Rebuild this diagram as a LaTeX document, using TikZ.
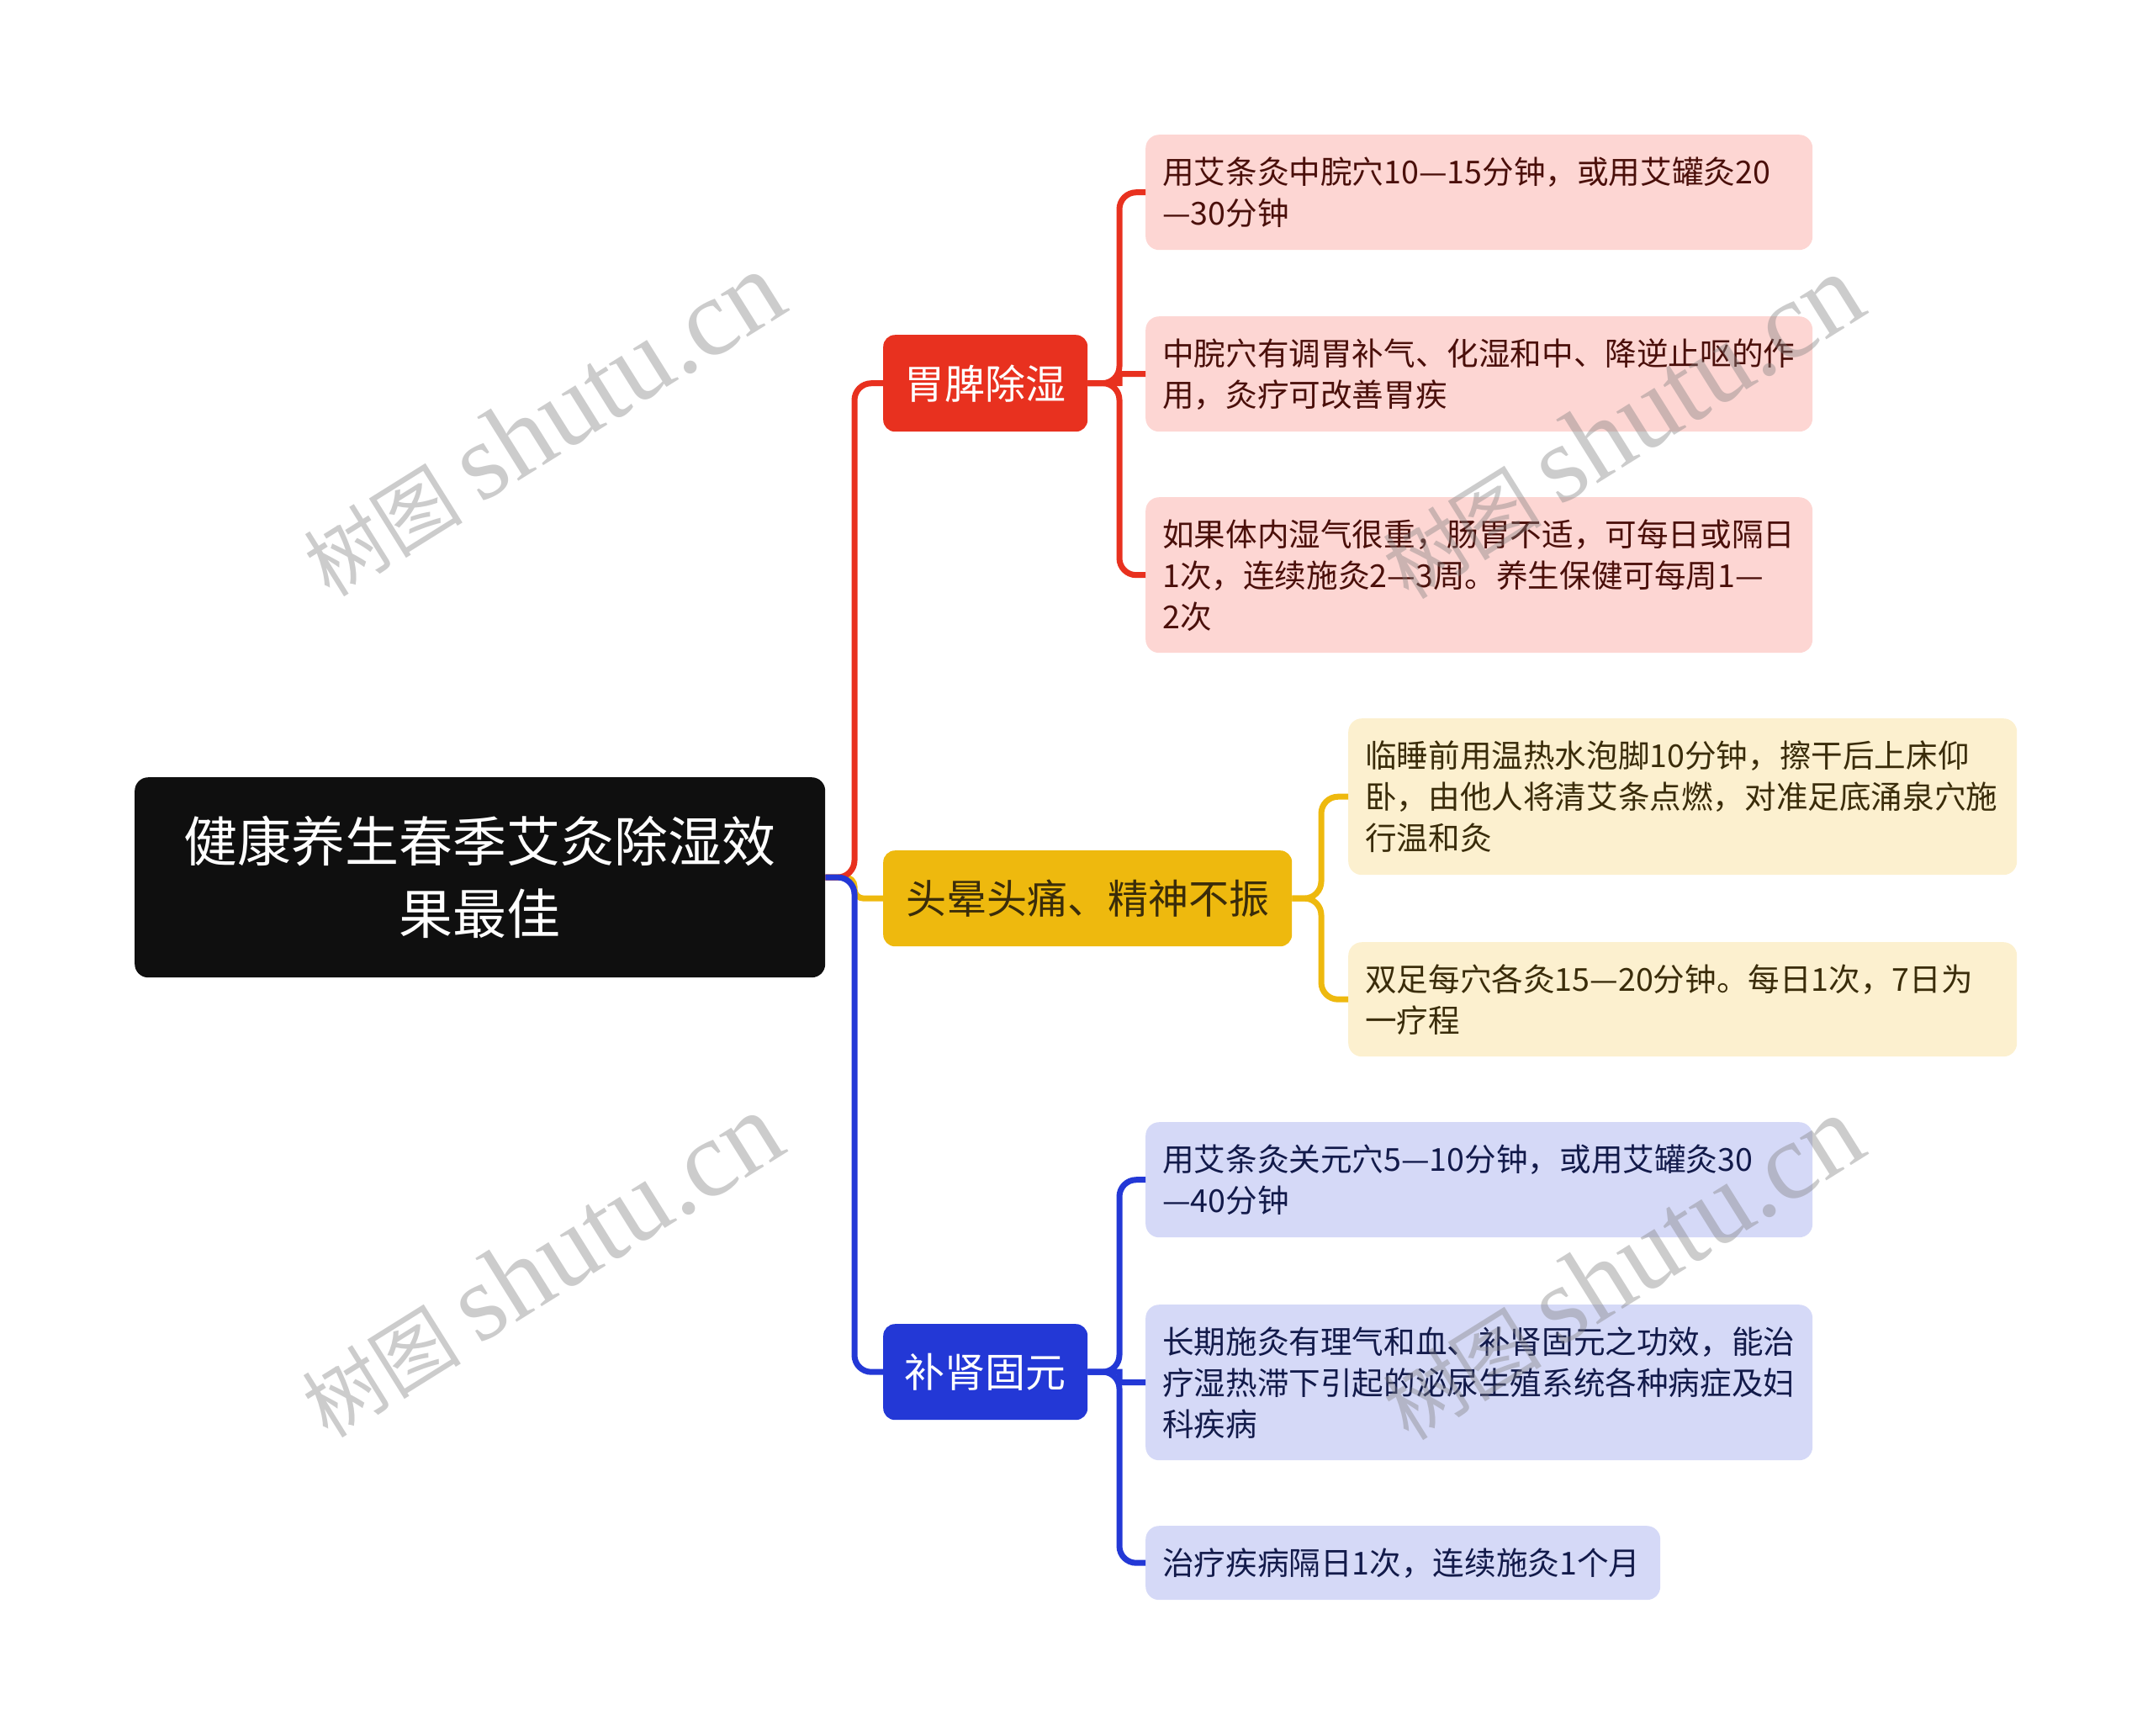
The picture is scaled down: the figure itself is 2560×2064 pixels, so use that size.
\documentclass[tikz,border=0pt]{standalone}
\usepackage{fontspec}
\setmainfont{Noto Sans CJK SC}
\newfontfamily\wmlatin{Liberation Serif}
\definecolor{rootc}{HTML}{0F0F0F}
\definecolor{redc}{HTML}{E8311F}
\definecolor{yelc}{HTML}{EEB90E}
\definecolor{bluec}{HTML}{2338D6}
\definecolor{redleaf}{HTML}{FDD6D3}
\definecolor{yelleaf}{HTML}{FCF0CF}
\definecolor{blueleaf}{HTML}{D5D9F7}
\definecolor{redtxt}{HTML}{4A0F0A}
\definecolor{yeltxt}{HTML}{3A2C0A}
\definecolor{bluetxt}{HTML}{121A4A}
\tikzset{
  rootbox/.style={fill=rootc, rounded corners=16pt, text=white, font=\fontsize{64}{86}\selectfont, align=center, inner sep=0pt, anchor=north west},
  lvone/.style={rounded corners=14pt, font=\fontsize{48}{60}\selectfont, inner sep=0pt, anchor=north west},
  leafbox/.style={rounded corners=16pt, font=\fontsize{37.6}{49}\selectfont, align=left, inner xsep=20pt, inner ysep=0pt, anchor=north west},
  conn/.style={line width=7pt, rounded corners=20pt},
  straightconn/.style={line width=7pt},
  wmark/.style={text=gray, opacity=0.4, rotate=32, font=\fontsize{95}{95}\selectfont}
}
\newcommand{\wmtext}{树图 {\wmlatin\fontsize{130}{130}\selectfont shutu.cn}}
\begin{document}
\begin{tikzpicture}[x=1pt,y=-1pt]
\useasboundingbox (0,0) rectangle (2560,2064);
% root
\node[rootbox, minimum width=821pt, minimum height=238pt] (root) at (160,924) {健康养生春季艾灸除湿效\\果最佳};
% level one
\node[lvone, fill=redc, text=white, minimum width=243pt, minimum height=115pt] (red) at (1050,398) {胃脾除湿};
\node[lvone, fill=yelc, text=yeltxt, minimum width=486pt, minimum height=114pt] (yel) at (1050,1011) {头晕头痛、精神不振};
\node[lvone, fill=bluec, text=white, minimum width=243pt, minimum height=114pt] (blue) at (1050,1574) {补肾固元};
% red leaves
\node[leafbox, fill=redleaf, text=redtxt, text width=753pt, minimum height=137pt] (r1) at (1362,160) {用艾条灸中脘穴10—15分钟，或用艾罐灸20\\—30分钟};
\node[leafbox, fill=redleaf, text=redtxt, text width=753pt, minimum height=137pt] (r2) at (1362,376) {中脘穴有调胃补气、化湿和中、降逆止呕的作\\用，灸疗可改善胃疾};
\node[leafbox, fill=redleaf, text=redtxt, text width=753pt, minimum height=185pt] (r3) at (1362,591) {如果体内湿气很重，肠胃不适，可每日或隔日\\1次，连续施灸2—3周。养生保健可每周1—\\2次};
% yellow leaves
\node[leafbox, fill=yelleaf, text=yeltxt, text width=755pt, minimum height=186pt] (y1) at (1603,854) {临睡前用温热水泡脚10分钟，擦干后上床仰\\卧，由他人将清艾条点燃，对准足底涌泉穴施\\行温和灸};
\node[leafbox, fill=yelleaf, text=yeltxt, text width=755pt, minimum height=136pt] (y2) at (1603,1120) {双足每穴各灸15—20分钟。每日1次，7日为\\一疗程};
% blue leaves
\node[leafbox, fill=blueleaf, text=bluetxt, text width=753pt, minimum height=137pt] (b1) at (1362,1334) {用艾条灸关元穴5—10分钟，或用艾罐灸30\\—40分钟};
\node[leafbox, fill=blueleaf, text=bluetxt, text width=753pt, minimum height=185pt] (b2) at (1362,1551) {长期施灸有理气和血、补肾固元之功效，能治\\疗湿热滞下引起的泌尿生殖系统各种病症及妇\\科疾病};
\node[leafbox, fill=blueleaf, text=bluetxt, text width=572pt, minimum height=88pt] (b3) at (1362,1814) {治疗疾病隔日1次，连续施灸1个月};
% connectors root -> level one
\coordinate (rt) at (1016,1043);
\draw[conn, yelc, rounded corners=11pt] (root.east) -- (rt) |- (yel.west);
\draw[conn, redc] (root.east) -- (rt) |- (red.west);
\draw[conn, bluec] (root.east) -- (rt) |- (blue.west);
% red subtree
\coordinate (rs) at (1331,455.5);
\draw[conn, redc] (red.east) -- (rs) |- (r1.west);
\draw[conn, redc] (red.east) -- (rs) |- (r3.west);
\draw[straightconn, redc] (red.east) -- (rs) |- (r2.west);
% yellow subtree
\coordinate (ys) at (1571,1068);
\draw[conn, yelc] (yel.east) -- (ys) |- (y1.west);
\draw[conn, yelc] (yel.east) -- (ys) |- (y2.west);
% blue subtree
\coordinate (bs) at (1331,1631);
\draw[conn, bluec] (blue.east) -- (bs) |- (b1.west);
\draw[conn, bluec] (blue.east) -- (bs) |- (b3.west);
\draw[straightconn, bluec] (blue.east) -- (bs) |- (b2.west);
% watermarks
\node[wmark] (wm1) at (645,505) {\wmtext};
\node[wmark] (wm2) at (1928,508) {\wmtext};
\node[wmark] (wm3) at (643,1505) {\wmtext};
\node[wmark] (wm4) at (1928,1508) {\wmtext};
\end{tikzpicture}
\end{document}
